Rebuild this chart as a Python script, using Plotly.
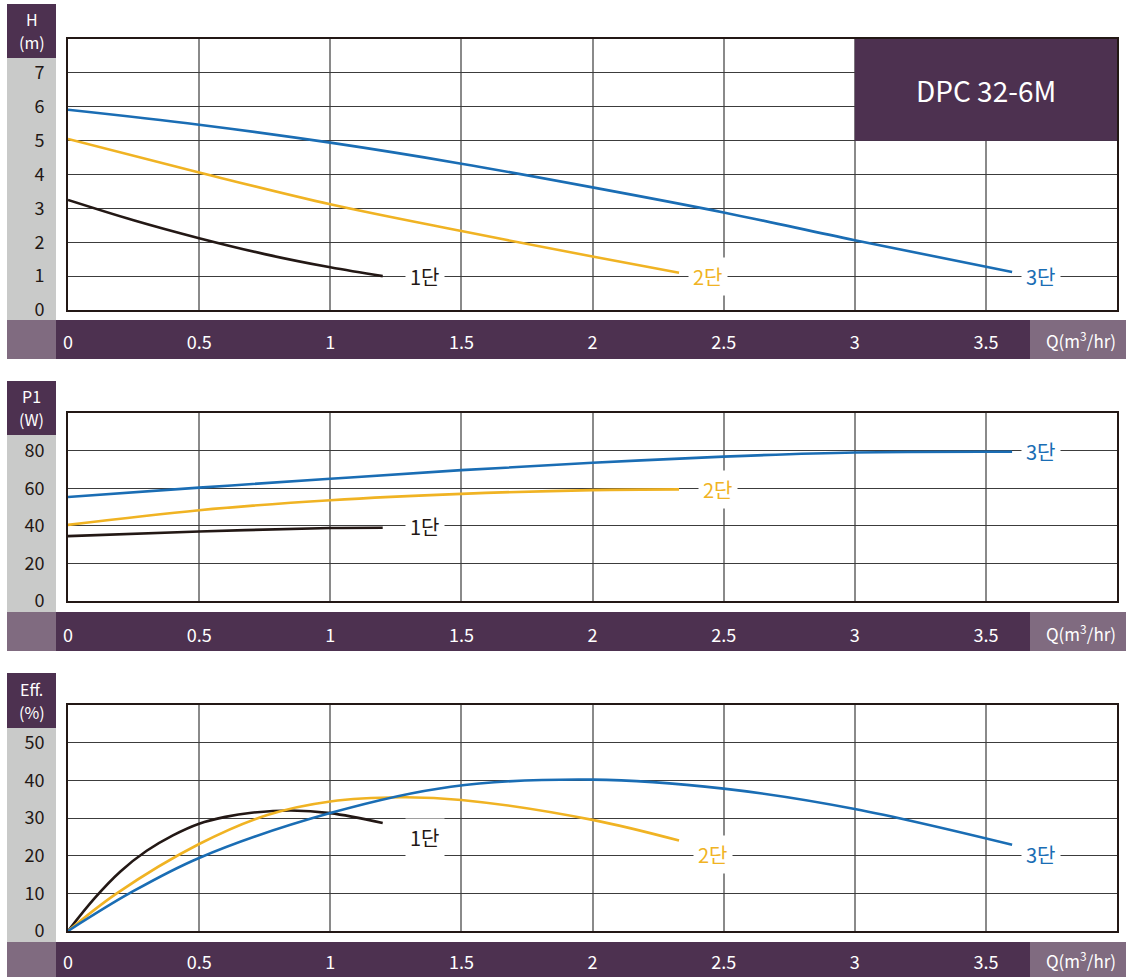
import plotly.graph_objects as go

W, H = 1126, 977

# ---------------- data ----------------
x_ticks = [0, 0.5, 1, 1.5, 2, 2.5, 3, 3.5]
x_tick_text = ["0", "0.5", "1", "1.5", "2", "2.5", "3", "3.5"]

h_ticks = [0, 1, 2, 3, 4, 5, 6, 7]
p_ticks = [0, 20, 40, 60, 80]
e_ticks = [0, 10, 20, 30, 40, 50]

stage_names = ["1단", "2단", "3단"]

# Head H (m)
q1_h = [0, 0.25, 0.5, 0.75, 1.0, 1.2]
h1 = [3.25, 2.65, 2.12, 1.65, 1.26, 1.0]
q2_h = [0, 0.5, 1.0, 1.5, 2.0, 2.33]
h2 = [5.05, 4.06, 3.12, 2.33, 1.58, 1.1]
q3_h = [0, 0.5, 1.0, 1.5, 2.0, 2.5, 3.0, 3.6]
h3 = [5.91, 5.47, 4.94, 4.32, 3.62, 2.88, 2.06, 1.12]

# Power P1 (W)
q1_p = [0, 0.5, 1.0, 1.2]
p1 = [34.5, 37.0, 38.8, 39.0]
q2_p = [0, 0.5, 1.0, 1.5, 2.0, 2.33]
p2 = [40.5, 48.3, 53.6, 57.0, 59.0, 59.4]
q3_p = [0, 0.5, 1.0, 1.5, 2.0, 2.5, 3.0, 3.6]
p3 = [55.3, 60.3, 65.0, 69.6, 73.5, 76.8, 79.0, 79.4]

# Efficiency (%)
q1_e = [0, 0.1, 0.2, 0.3, 0.4, 0.5, 0.6, 0.7, 0.85, 1.0, 1.2]
e1 = [0, 8.6, 15.8, 21.3, 25.4, 28.5, 30.3, 31.4, 32.0, 31.3, 28.7]
q2_e = [0, 0.186, 0.5, 0.76, 1.0, 1.27, 1.5, 2.0, 2.33]
e2 = [0, 10.0, 23.1, 30.8, 34.4, 35.5, 34.8, 29.5, 24.0]
q3_e = [0, 0.237, 0.5, 1.0, 1.46, 2.0, 2.5, 3.0, 3.6]
e3 = [0, 10.1, 19.4, 31.3, 38.3, 40.2, 37.8, 32.4, 22.9]

# label positions (Q, value) for stage labels
lab_h = [(1.36, 1.0), (2.44, 1.0), (3.71, 1.0)]
lab_p = [(1.36, 39.5), (2.48, 59.2), (3.71, 79.5)]
lab_e = [(1.36, 24.8), (2.46, 20.3), (3.71, 20.3)]

model_name = "DPC 32-6M"

# ---------------- style ----------------
colors = ["#231815", "#f0b323", "#1a6db4"]
DARK = "#4d3150"
LIGHT = "#806b80"
GREY = "#c9cac9"
VGRID = "#8a8a8a"
HGRID = "#3c3c3c"
FONT = "Noto Sans CJK KR"

def px(x):
    return x / W

def py(y):
    return 1 - y / H

panels = [
    dict(top=39, bot=310, ymax=8, ticks=h_ticks, label=["H", "(m)"], lt=4, lb=58, bt=320, bb=359,
         series=[(q1_h, h1), (q2_h, h2), (q3_h, h3)], labs=lab_h, qy=340),
    dict(top=413, bot=601, ymax=100, ticks=p_ticks, label=["P1", "(W)"], lt=381, lb=435, bt=612, bb=651,
         series=[(q1_p, p1), (q2_p, p2), (q3_p, p3)], labs=lab_p, qy=633),
    dict(top=705, bot=931, ymax=60, ticks=e_ticks, label=["Eff.", "(%)"], lt=673, lb=728, bt=942, bb=977,
         series=[(q1_e, e1), (q2_e, e2), (q3_e, e3)], labs=lab_e, qy=960),
]

fig = go.Figure()
shapes = []
annotations = []
layout = {}

for i, p in enumerate(panels):
    n = "" if i == 0 else str(i + 1)
    xa, ya = "x" + n, "y" + n
    for k, (xs, ys) in enumerate(p["series"]):
        fig.add_trace(go.Scatter(x=xs, y=ys, mode="lines", xaxis=xa, yaxis=ya,
                                 line=dict(color=colors[k], width=2.6, shape="spline", smoothing=1.0),
                                 showlegend=False, hoverinfo="skip"))
    qy = p["qy"]
    layout["xaxis" + n] = dict(
        domain=[px(68), px(1117)], range=[0, 4], anchor=ya,
        tickvals=x_ticks, ticktext=x_tick_text,
        showgrid=True, gridcolor=VGRID, gridwidth=1.5,
        showline=True, mirror=True, linecolor="#231815", linewidth=2,
        ticks="outside", ticklen=qy - p["bot"] - 15, tickcolor="rgba(0,0,0,0)",
        tickfont=dict(family=FONT, size=18, color="white"), zeroline=False, fixedrange=True)
    layout["yaxis" + n] = dict(
        domain=[py(p["bot"]), py(p["top"])], range=[0, p["ymax"]], anchor=xa,
        tickvals=p["ticks"], ticktext=[str(t) for t in p["ticks"]],
        showgrid=True, gridcolor=HGRID, gridwidth=1,
        showline=True, mirror=True, linecolor="#231815", linewidth=2,
        ticks="outside", ticklen=18, tickcolor="rgba(0,0,0,0)",
        tickfont=dict(family=FONT, size=18, color="#231815"), zeroline=False, fixedrange=True)

    shapes += [
        dict(type="rect", xref="paper", yref="paper", x0=px(7), x1=px(56), y0=py(p["lb"]), y1=py(p["lt"]),
             fillcolor=DARK, line=dict(width=0), layer="below"),
        dict(type="rect", xref="paper", yref="paper", x0=px(7), x1=px(56), y0=py(p["bt"]), y1=py(p["lb"]),
             fillcolor=GREY, line=dict(width=0), layer="below"),
        dict(type="rect", xref="paper", yref="paper", x0=px(7), x1=px(56), y0=py(p["bb"]), y1=py(p["bt"]),
             fillcolor=LIGHT, line=dict(width=0), layer="below"),
        dict(type="rect", xref="paper", yref="paper", x0=px(56), x1=px(1030), y0=py(p["bb"]), y1=py(p["bt"]),
             fillcolor=DARK, line=dict(width=0), layer="below"),
        dict(type="rect", xref="paper", yref="paper", x0=px(1030), x1=px(1126), y0=py(p["bb"]), y1=py(p["bt"]),
             fillcolor=LIGHT, line=dict(width=0), layer="below"),
    ]
    mid = (p["lt"] + p["lb"]) / 2
    annotations.append(dict(xref="paper", yref="paper", x=px(31.5), y=py(mid - 12),
                            text=p["label"][0], showarrow=False, xanchor="center", yanchor="middle",
                            font=dict(family=FONT, size=16, color="white")))
    annotations.append(dict(xref="paper", yref="paper", x=px(31.5), y=py(mid + 11),
                            text=p["label"][1], showarrow=False, xanchor="center", yanchor="middle",
                            font=dict(family=FONT, size=16, color="white")))
    annotations.append(dict(xref="paper", yref="paper", x=px(1081), y=py(qy),
                            text="Q(m<sup>3</sup>/hr)", showarrow=False, xanchor="center", yanchor="middle",
                            font=dict(family=FONT, size=17, color="white")))
    for k, (lx, ly) in enumerate(p["labs"]):
        annotations.append(dict(xref=xa, yref=ya, x=lx, y=ly, text=stage_names[k], showarrow=False,
                                bgcolor="white", borderpad=4, xanchor="center", yanchor="middle",
                                font=dict(family=FONT, size=20, color=colors[k])))

shapes.append(dict(type="rect", xref="x", yref="y", x0=3, x1=4, y0=5, y1=8,
                   fillcolor=DARK, line=dict(width=0), layer="above"))
annotations.append(dict(xref="x", yref="y", x=3.5, y=6.5, text=model_name, showarrow=False,
                        font=dict(family=FONT, size=28, color="white")))

fig.update_layout(
    width=W, height=H, margin=dict(l=0, r=0, t=0, b=0, autoexpand=False),
    paper_bgcolor="white", plot_bgcolor="white",
    shapes=shapes, annotations=annotations, showlegend=False, **layout)

fig.write_html("out.html", config={"displayModeBar": False},
               post_script="document.body.style.margin='0';document.body.style.overflow='hidden';")
